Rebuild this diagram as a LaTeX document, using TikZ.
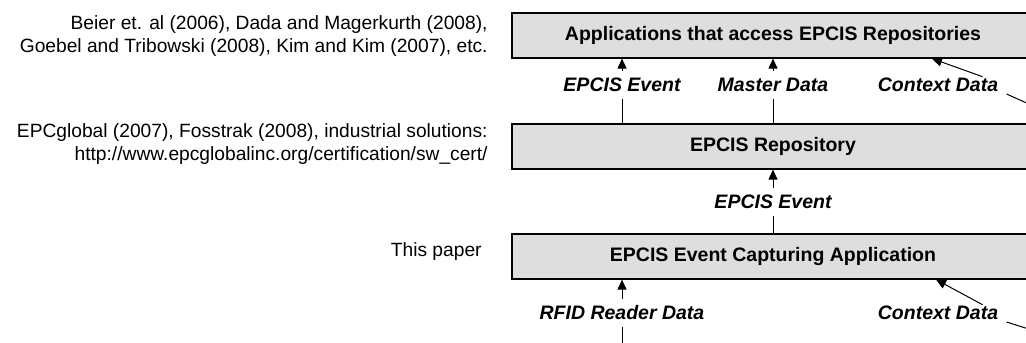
\documentclass[tikz,border=0pt]{standalone}
\usepackage{fontspec}
\setmainfont{Liberation Sans}
\usetikzlibrary{positioning, arrows.meta}

\tikzset{
    layerbox/.style={draw=black, line width=0.6pt, fill=black!13, minimum width=261pt, minimum height=22.5pt, inner sep=0pt, font=\fontsize{9.75}{11.5}\selectfont\bfseries},
    flowlabel/.style={fill=white, inner xsep=4pt, inner ysep=3.5pt, font=\fontsize{9.75}{11.5}\selectfont\bfseries\itshape},
    reftext/.style={anchor=east, align=right, inner sep=0pt, font=\fontsize{9.6}{11.8}\selectfont},
    flow/.style={line width=0.5pt, -{Triangle[length=5pt, width=4.5pt]}}
}

\begin{document}
\begin{tikzpicture}[x=0.5pt, y=-0.5pt]
    \useasboundingbox (0,0) rectangle (1026,342);
    \clip (0,0) rectangle (1026,342);

    % the three layers
    \node[layerbox] (apps) at (773,35.5) {Applications that access EPCIS Repositories};
    \node[layerbox] (repo) at (773,146.5) {EPCIS Repository};
    \node[layerbox] (capture) at (773,256.5) {EPCIS Event Capturing Application};

    % literature on the left
    \node[reftext] (lit1) at (488,36) {Beier et. al (2006), Dada and Magerkurth (2008),\\ Goebel and Tribowski (2008), Kim and Kim (2007), etc.};
    \node[reftext] (lit2) at (488,144) {EPCglobal (2007), Fosstrak (2008), industrial solutions:\\ http://www.epcglobalinc.org/certification/sw\_cert/};
    \node[reftext] (lit3) at (482,252) {This paper};

    % free ends outside the picture
    \coordinate (ctxin1) at (1060,118);
    \coordinate (ctxin2) at (1060,339);
    \coordinate (rfidin) at (622,360);

    % repository -> applications
    \draw[flow] (repo.north -| 622,0) -- (apps.south -| 622,0);
    \draw[flow] (repo.north) -- (apps.south);
    \node[flowlabel] (evt1) at (622,85) {EPCIS Event};
    \node[flowlabel] (master) at (773,85) {Master Data};
    \node[flowlabel] (ctx1) at (938,85) {Context Data};
    \draw[line width=0.5pt] (ctxin1) -- ([yshift=-4.5pt]ctx1.east);
    \draw[flow] ([xshift=-12pt, yshift=-3pt]ctx1.north east) -- (apps.south -| 932,0);

    % capturing -> repository
    \draw[flow] (capture.north) -- (repo.south);
    \node[flowlabel] (evt2) at (773,202) {EPCIS Event};

    % inputs of the capturing application
    \draw[flow] (rfidin) -- (capture.south -| 622,0);
    \node[flowlabel] (rfid) at (622,313) {RFID Reader Data};
    \node[flowlabel] (ctx2) at (938,313) {Context Data};
    \draw[line width=0.5pt] (ctxin2) -- ([yshift=-4.5pt]ctx2.east);
    \draw[flow] ([xshift=-12pt, yshift=-3pt]ctx2.north east) -- (capture.south -| 936,0);
\end{tikzpicture}
\end{document}
